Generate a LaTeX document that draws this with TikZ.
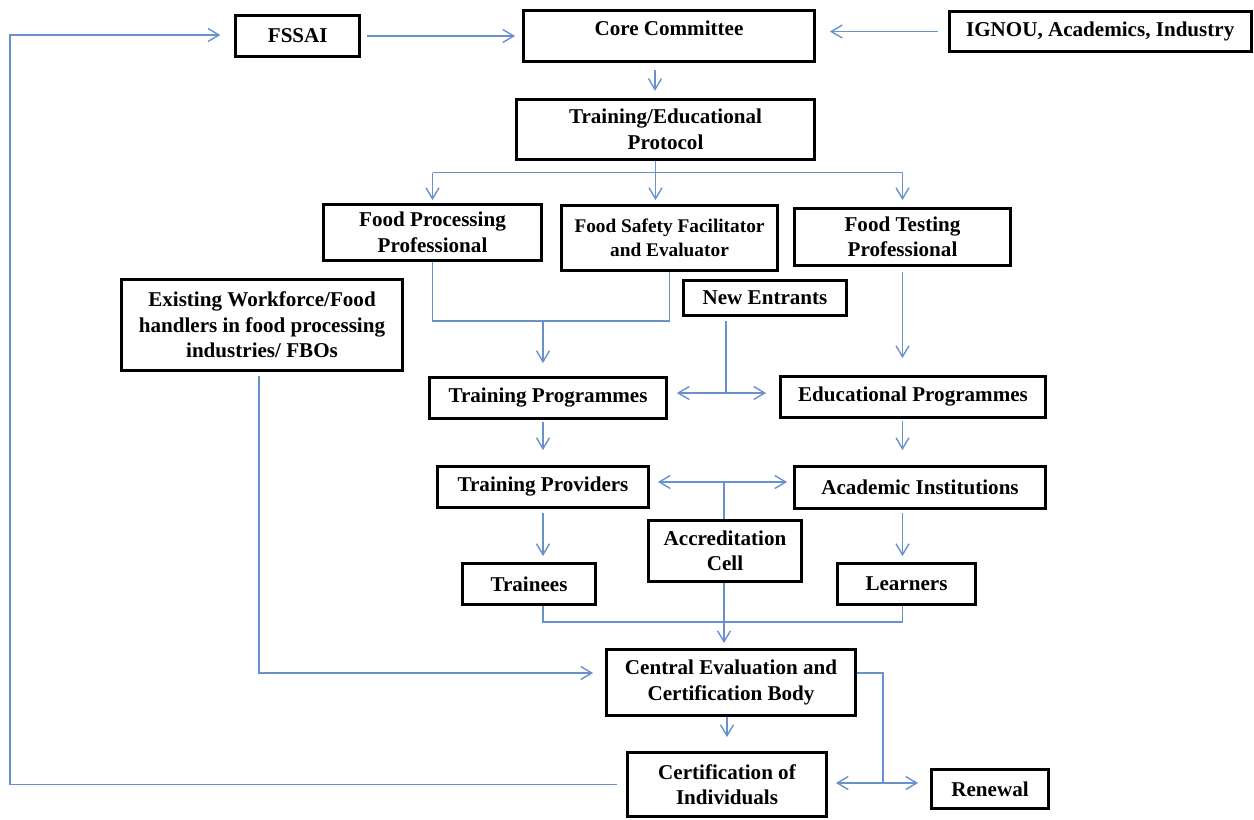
\documentclass[tikz,border=0pt]{standalone}
\usepackage{fontspec}
\setmainfont{Liberation Serif}
\usepackage{tikz}
\usetikzlibrary{arrows.meta, positioning}
\definecolor{linkblue}{RGB}{105,145,205}

\begin{document}
\begin{tikzpicture}[x=0.02cm, y=-0.02cm,
        box/.style={draw, rectangle, line width=1.6pt, align=center, inner sep=2pt, font=\bfseries\fontsize{12}{14.5}\selectfont},
        link/.style={draw=linkblue, line width=0.8pt},
        arrow/.style={link, ->, >={Straight Barb[length=2.2mm, width=2.6mm]}}
    ]
    \useasboundingbox (0,0) rectangle (1254,819);

    % top row
    \node[box, minimum width=5.82cm, minimum height=1.02cm, text depth=0.3cm] (core) at (669,36) {Core Committee};
    \node[box, minimum width=2.48cm, minimum height=0.82cm, left=3.22cm of core] (fssai) {FSSAI};
    \node[box, minimum width=6.04cm, minimum height=0.80cm, right=2.64cm of core, yshift=0.09cm] (ignou) {IGNOU, Academics, Industry};
    \node[box, minimum width=5.96cm, minimum height=1.20cm, below=0.7cm of core, xshift=-0.07cm] (protocol) {Training/Educational\\Protocol};

    % professionals
    \node[box, minimum width=4.36cm, minimum height=1.12cm] (fpp) at (432.5,232.5) {Food Processing\\Professional};
    \node[box, minimum width=4.32cm, minimum height=1.30cm, font=\bfseries\fontsize{11}{13.5}\selectfont] (fsfe) at (669.5,238) {Food Safety Facilitator\\and Evaluator};
    \node[box, minimum width=4.32cm, minimum height=1.14cm] (ftp) at (902.5,237) {Food Testing\\Professional};
    \node[box, minimum width=5.62cm, minimum height=1.82cm] (existing) at (262,325) {Existing Workforce/Food\\handlers in food processing\\industries/ FBOs};
    \node[box, minimum width=3.26cm, minimum height=0.70cm] (newent) at (765,298) {New Entrants};

    % programmes and providers
    \node[box, minimum width=4.74cm, minimum height=0.82cm] (tprog) at (548,398) {Training Programmes};
    \node[box, minimum width=5.30cm, minimum height=0.82cm] (eprog) at (913,397) {Educational Programmes};
    \node[box, minimum width=4.22cm, minimum height=0.82cm] (tprov) at (543,487) {Training Providers};
    \node[box, minimum width=5.02cm, minimum height=0.84cm] (acad) at (920,487.5) {Academic Institutions};
    \node[box, minimum width=3.06cm, minimum height=1.22cm] (accr) at (725,551) {Accreditation\\Cell};
    \node[box, minimum width=2.66cm, minimum height=0.82cm] (trainees) at (529,584) {Trainees};
    \node[box, minimum width=2.76cm, minimum height=0.82cm] (learners) at (906.5,584) {Learners};

    % certification
    \node[box, minimum width=4.98cm, minimum height=1.32cm] (ceval) at (731,682.5) {Central Evaluation and\\Certification Body};
    \node[box, minimum width=3.98cm, minimum height=1.28cm] (certind) at (727,784.5) {Certification of\\Individuals};
    \node[box, minimum width=2.34cm, minimum height=0.78cm] (renewal) at (990,789) {Renewal};

    % junctions
    \coordinate (cdrop) at ([xshift=-0.28cm]core.south);
    \coordinate (split) at ([xshift=-0.2cm, yshift=-0.24cm]protocol.south);
    \coordinate (fjoin) at (543,321);
    \coordinate (njoin) at (726,393);
    \coordinate (ajoin) at (724,482);
    \coordinate (rjoin) at (883,783);
    \coordinate (lcorner) at (10,35);

    % top arrows
    \draw[arrow, shorten <=0.12cm, shorten >=0.14cm] (fssai.east) -- (fssai.east -| core.west);
    \draw[arrow, shorten <=0.2cm, shorten >=0.28cm] (ignou.west) -- (ignou.west -| core.east);
    \draw[arrow, shorten <=0.14cm, shorten >=0.14cm] (cdrop) -- (cdrop |- protocol.north);

    % protocol split
    \draw[link] (protocol.south -| split) -- (split);
    \draw[link] (split -| fpp.north) -- (split -| ftp.north);
    \draw[arrow, shorten >=0.06cm] (split -| fpp.north) -- (fpp.north);
    \draw[arrow, shorten >=0.08cm] (split) -- (split |- fsfe.north);
    \draw[arrow, shorten >=0.14cm] (split -| ftp.north) -- (ftp.north);

    % to the programmes
    \draw[link] (fpp.south) -- ++(0,59) -| (fsfe.south);
    \draw[arrow, shorten >=0.26cm] (fjoin) -- (fjoin |- tprog.north);
    \draw[arrow, shorten <=0.1cm, shorten >=0.34cm] (ftp.south) -- (ftp.south |- eprog.north);
    \draw[link, shorten <=0.08cm] (njoin |- newent.south) -- (njoin);
    \draw[arrow, shorten >=0.18cm] (njoin) -- (njoin -| tprog.east);
    \draw[arrow, shorten >=0.26cm] (njoin) -- (njoin -| eprog.west);

    % programmes to learners
    \draw[arrow, shorten <=0.04cm, shorten >=0.3cm] (fjoin |- tprog.south) -- (fjoin |- tprov.north);
    \draw[arrow, shorten <=0.04cm, shorten >=0.3cm] (ftp.south |- eprog.south) -- (ftp.south |- acad.north);
    \draw[link] (accr.north -| ajoin) -- (ajoin);
    \draw[arrow, shorten >=0.16cm] (ajoin) -- (ajoin -| tprov.east);
    \draw[arrow, shorten >=0.12cm] (ajoin) -- (ajoin -| acad.west);
    \draw[arrow, shorten <=0.08cm, shorten >=0.12cm] (tprov.south) -- (tprov.south |- trainees.north);
    \draw[arrow, shorten <=0.06cm, shorten >=0.12cm] (ftp.south |- acad.south) -- (ftp.south |- learners.north);

    % to certification
    \draw[link] (tprov.south |- trainees.south) -- ++(0,16) -| (ftp.south |- learners.south);
    \draw[arrow, shorten >=0.1cm] (accr.south -| ajoin) -- (ajoin |- ceval.north);
    \draw[arrow, shorten <=0.08cm, shorten >=0.24cm] ([xshift=-0.06cm]existing.south) |- ([yshift=0.19cm]ceval.west);
    \draw[arrow, shorten >=0.28cm] (ceval.south -| certind.north) -- (certind.north);
    \draw[link] ([yshift=0.19cm]ceval.east) -| (rjoin);
    \draw[arrow, shorten >=0.16cm] (rjoin) -- (rjoin -| certind.east);
    \draw[arrow, shorten >=0.24cm] (rjoin) -- (rjoin -| renewal.west);

    % back to FSSAI
    \draw[arrow, shorten <=0.18cm, shorten >=0.28cm] (certind.west) -| (lcorner) -- (lcorner -| fssai.west);
\end{tikzpicture}
\end{document}
